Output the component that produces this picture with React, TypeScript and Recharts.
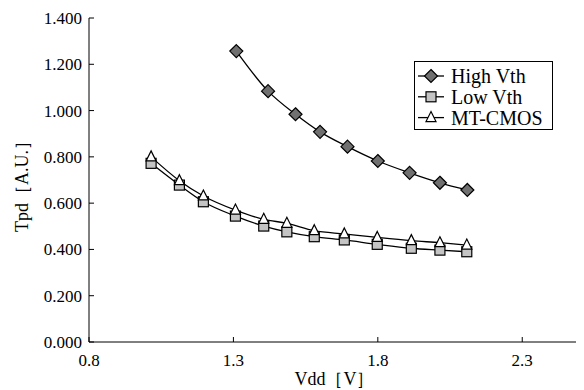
import React from 'react';
import { LineChart, Line, XAxis, YAxis, Legend, Label } from 'recharts';

const highVdd = [1.31, 1.42, 1.515, 1.6, 1.695, 1.8, 1.91, 2.015, 2.11];
const highTpd = [1.257, 1.084, 0.984, 0.908, 0.844, 0.782, 0.731, 0.688, 0.657];
const lowVdd = [1.015, 1.113, 1.196, 1.307, 1.405, 1.485, 1.58, 1.684, 1.798, 1.916, 2.015, 2.108];
const lowTpd = [0.772, 0.678, 0.606, 0.544, 0.501, 0.476, 0.455, 0.441, 0.422, 0.405, 0.397, 0.39];
const mtTpd = [0.8, 0.697, 0.631, 0.57, 0.53, 0.513, 0.481, 0.467, 0.452, 0.438, 0.429, 0.419];
const xTicks = [0.8, 1.3, 1.8, 2.3];
const yTicks = [0, 0.2, 0.4, 0.6, 0.8, 1.0, 1.2, 1.4];
const seriesNames = ['High Vth', 'Low Vth', 'MT-CMOS'];

const highData = highVdd.map((v, i) => ({ vdd: v, tpd: highTpd[i] }));
const lowData = lowVdd.map((v, i) => ({ vdd: v, tpd: lowTpd[i] }));
const mtData = lowVdd.map((v, i) => ({ vdd: v, tpd: mtTpd[i] }));

const FONT = "'Liberation Serif', 'DejaVu Serif', serif";

function Diamond({ cx, cy }: any) {
  return <path d={`M${cx},${cy - 6.5}L${cx + 6.5},${cy}L${cx},${cy + 6.5}L${cx - 6.5},${cy}Z`} fill="#707070" stroke="#000" strokeWidth={1.2} />;
}
function Square({ cx, cy }: any) {
  return <rect x={cx - 5} y={cy - 5} width={10} height={10} fill="#c4c4c4" stroke="#000" strokeWidth={1.2} />;
}
function Triangle({ cx, cy }: any) {
  return <path d={`M${cx},${cy - 6}L${cx + 5},${cy + 4}L${cx - 5},${cy + 4}Z`} fill="#fff" stroke="#000" strokeWidth={1.2} />;
}
const markers = [Diamond, Square, Triangle];

function LegendBox() {
  return (
    <svg width={139} height={69} style={{ display: 'block', border: '1px solid #000', background: '#fff', boxSizing: 'border-box' }}>
      {seriesNames.map((name, i) => {
        const M = markers[i];
        const y = 14 + i * 20.8;
        return (
          <g key={name}>
            <line x1={3} x2={29} y1={y} y2={y} stroke="#000" strokeWidth={1.3} />
            <M cx={16} cy={y} />
            <text x={36} y={y} dominantBaseline="central" fontSize={20} fontFamily={FONT} fill="#000">{name}</text>
          </g>
        );
      })}
    </svg>
  );
}

function YTitle(props: any) {
  const vb = props.viewBox || { y: 10, height: 324 };
  const cy = vb.y + vb.height / 2 + 2;
  return (
    <text x={14} y={cy} transform={`rotate(-90, 14, ${cy})`} textAnchor="middle" dominantBaseline="central" fontSize={18} fontFamily={FONT} fill="#000">
      Tpd［A.U.］
    </text>
  );
}

export default function App() {
  return (
    <LineChart width={576} height={382} margin={{ top: 10, right: 4, left: 0, bottom: 0 }}>
      <XAxis
        type="number"
        dataKey="vdd"
        domain={[0.8, 2.5]}
        ticks={xTicks}
        allowDataOverflow
        tickFormatter={(v: number) => v.toFixed(1)}
        height={48}
        tickSize={-5}
        tickMargin={17}
        stroke="#000"
        tick={{ fill: '#000', fontSize: 17, fontFamily: FONT }}
      >
        <Label value="Vdd［V］" position="insideBottom" offset={5} style={{ fontSize: 18, fontFamily: FONT, fill: '#000' }} />
      </XAxis>
      <YAxis
        type="number"
        domain={[0, 1.4]}
        ticks={yTicks}
        tickFormatter={(v: number) => v.toFixed(3)}
        width={81}
        tickSize={-5}
        tickMargin={12}
        stroke="#000"
        tick={{ fill: '#000', fontSize: 17, fontFamily: FONT }}
        label={<YTitle />}
      />
      <Legend
        layout="vertical"
        align="center"
        verticalAlign="middle"
        wrapperStyle={{ left: 406, top: 53, width: 139, height: 69 }}
        content={() => <LegendBox />}
      />
      <Line data={highData} dataKey="tpd" name={seriesNames[0]} type="monotone" stroke="#000" strokeWidth={1.3} isAnimationActive={false}
        dot={(p: any) => <Diamond key={`h${p.index}`} cx={p.cx} cy={p.cy} />} />
      <Line data={lowData} dataKey="tpd" name={seriesNames[1]} type="monotone" stroke="#000" strokeWidth={1.3} isAnimationActive={false}
        dot={(p: any) => <Square key={`l${p.index}`} cx={p.cx} cy={p.cy} />} />
      <Line data={mtData} dataKey="tpd" name={seriesNames[2]} type="monotone" stroke="#000" strokeWidth={1.3} isAnimationActive={false}
        dot={(p: any) => <Triangle key={`m${p.index}`} cx={p.cx} cy={p.cy} />} />
    </LineChart>
  );
}
